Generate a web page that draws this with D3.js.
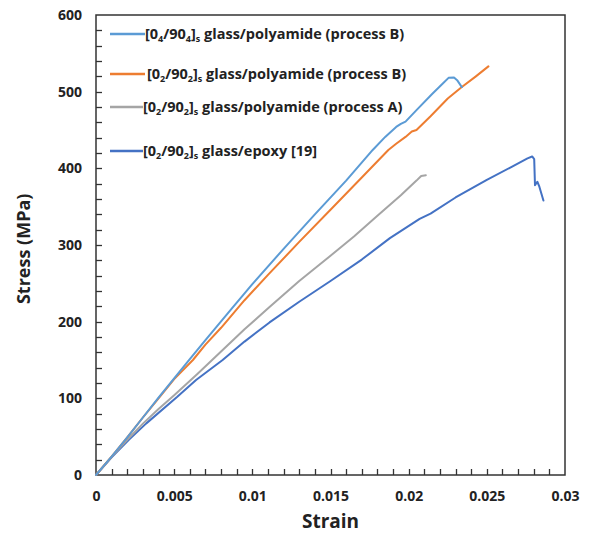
<!DOCTYPE html>
<meta charset="utf-8">
<style>
body { margin: 0; padding: 0; background: #fff; }
svg text { font-family: "Open Sans", "Noto Sans", sans-serif; font-weight: 700; fill: #222; }
.curve { fill: none; stroke-width: 2px; stroke-linejoin: round; stroke-linecap: round; }
.frame { fill: none; stroke: #333; stroke-width: 1.5px; }
</style>
<body>
<script src="https://cdn.jsdelivr.net/npm/d3@7"></script>
<script>

// stress-strain curves: [strain, stress MPa]
var poly04B = [[0,0],[0.001,24],[0.002,49],[0.003,75],[0.004,101],[0.005,126],[0.006,151],
  [0.007,176],[0.0086,215],[0.010,249],[0.012,295],[0.014,340],[0.016,384],
  [0.0177,424],[0.0185,441],[0.0192,454],[0.0195,458],[0.0198,461],[0.0205,476],
  [0.0215,497],[0.0222,511],[0.02255,518],[0.0229,518.5],[0.0231,515],[0.0234,506]];
var poly02B = [[0,0],[0.001,24],[0.002,49],[0.003,75],[0.004,100],[0.005,125],[0.0062,150],
  [0.007,170],[0.008,192],[0.0095,228],[0.011,261],[0.013,304],[0.015,346],[0.017,388],
  [0.0187,424],[0.0192,432],[0.0198,441],[0.0202,448],[0.0205,450],[0.0214,468],
  [0.0225,491],[0.0234,506],[0.0243,520],[0.0251,533]];
var poly02A = [[0,0],[0.001,24],[0.002,46],[0.003,67],[0.004,86],[0.005,104],[0.0065,132],
  [0.008,161],[0.0095,190],[0.0111,219],[0.013,253],[0.015,286],[0.0165,311],[0.018,338],
  [0.0195,365],[0.0205,384],[0.0208,390],[0.0211,391]];
var epoxy02 = [[0,0],[0.001,23],[0.0021,46],[0.0032,67],[0.0052,102],[0.0064,124],[0.0081,150],
  [0.0095,174],[0.0111,199],[0.013,226],[0.015,253],[0.017,281],[0.0188,309],[0.0207,334],
  [0.0214,341],[0.023,362],[0.025,385],[0.0265,401],[0.0276,413],[0.0279,415.5],
  [0.02803,412],[0.02808,378],[0.02823,382.5],[0.02836,376],[0.02862,358]];

var seriesData = [poly04B, poly02B, poly02A, epoxy02];
var seriesColors = ["#5b9bd5", "#ed7d31", "#a5a5a5", "#4472c4"];
// legend label parts: [text, subscript?]
var legendLabels = [
  [["[0",0],["4",1],["/90",0],["4",1],["]",0],["s",1],[" glass/polyamide (process B)",0]],
  [["[0",0],["2",1],["/90",0],["2",1],["]",0],["s",1],[" glass/polyamide (process B)",0]],
  [["[0",0],["2",1],["/90",0],["2",1],["]",0],["s",1],[" glass/polyamide (process A)",0]],
  [["[0",0],["2",1],["/90",0],["2",1],["]",0],["s",1],[" glass/epoxy [19]",0]]
];

var xMajor = [0, 0.005, 0.01, 0.015, 0.02, 0.025, 0.03];
var yMajor = [0, 100, 200, 300, 400, 500, 600];

var width = 597, height = 535;
var margin = {left: 96, right: 32, top: 15, bottom: 60};

var svg = d3.select("body").append("svg")
    .attr("width", width)
    .attr("height", height);

var x = d3.scaleLinear().domain([0, 0.03]).range([margin.left, width - margin.right]);
var y = d3.scaleLinear().domain([0, 600]).range([height - margin.bottom, margin.top]);

// minor ticks pointing inward
var xTicks = d3.range(1, 30).map(function(i) { return i / 1000; });
var yTicks = d3.range(1, 30).map(function(i) { return i * 20; });

var ticks = svg.append("g")
    .attr("stroke", "#333")
    .attr("stroke-width", 1.3);

ticks.selectAll("line.xt").data(xTicks).enter().append("line")
    .attr("class", "xt")
    .attr("x1", function(d) { return Math.round(x(d)) + 0.5; })
    .attr("x2", function(d) { return Math.round(x(d)) + 0.5; })
    .attr("y1", y(0)).attr("y2", y(0) - 6);

ticks.selectAll("line.yt").data(yTicks).enter().append("line")
    .attr("class", "yt")
    .attr("x1", x(0)).attr("x2", x(0) + 6)
    .attr("y1", function(d) { return Math.round(y(d)) + 0.5; })
    .attr("y2", function(d) { return Math.round(y(d)) + 0.5; });

// tick labels
svg.append("g")
    .attr("transform", "translate(0," + y(0) + ")")
    .call(d3.axisBottom(x).tickValues(xMajor).tickSize(0).tickPadding(16)
      .tickFormat(function(d) { return String(+d.toFixed(3)); }))
    .call(function(g) { g.select(".domain").remove(); g.selectAll("text").style("font-size", "14px"); });

svg.append("g")
    .attr("transform", "translate(" + x(0) + ",0)")
    .call(d3.axisLeft(y).tickValues(yMajor).tickSize(0).tickPadding(14))
    .call(function(g) { g.select(".domain").remove(); g.selectAll("text").style("font-size", "14px"); });

svg.append("rect")
    .attr("class", "frame")
    .attr("x", x(0)).attr("y", y(600))
    .attr("width", x(0.03) - x(0)).attr("height", y(0) - y(600));

var line = d3.line()
    .x(function(d) { return x(d[0]); })
    .y(function(d) { return y(d[1]); });

// draw epoxy first so polyamide curves lie above
[3, 2, 1, 0].forEach(function(i) {
  svg.append("path")
      .attr("class", "curve")
      .attr("d", line(seriesData[i]))
      .style("stroke", seriesColors[i]);
});

// legend
var legendRows = [
  {y: 34, x1: 110, x2: 145, tx: 145},
  {y: 74, x1: 110, x2: 145, tx: 147},
  {y: 107, x1: 110, x2: 143, tx: 143},
  {y: 151, x1: 110, x2: 143, tx: 143}
];
legendRows.forEach(function(r, i) {
  svg.append("line")
      .attr("x1", r.x1).attr("x2", r.x2)
      .attr("y1", r.y).attr("y2", r.y)
      .style("stroke", seriesColors[i])
      .style("stroke-width", 2.5);
  var t = svg.append("text")
      .attr("x", r.tx).attr("y", r.y + 5)
      .style("font-size", "14.5px");
  var prevSub = 0;
  legendLabels[i].forEach(function(p) {
    var ts = t.append("tspan").text(p[0]);
    if (p[1] && !prevSub) ts.attr("dy", 3);
    if (!p[1] && prevSub) ts.attr("dy", -3);
    if (p[1]) ts.style("font-size", "9px");
    prevSub = p[1];
  });
});

// axis titles
svg.append("text")
    .attr("x", (x(0) + x(0.03)) / 2)
    .attr("y", 528)
    .attr("text-anchor", "middle")
    .style("font-size", "19px")
    .text("Strain");

svg.append("text")
    .attr("transform", "translate(30," + y(295) + ") rotate(-90)")
    .attr("text-anchor", "middle")
    .style("font-size", "18px")
    .text("Stress (MPa)");

</script>
